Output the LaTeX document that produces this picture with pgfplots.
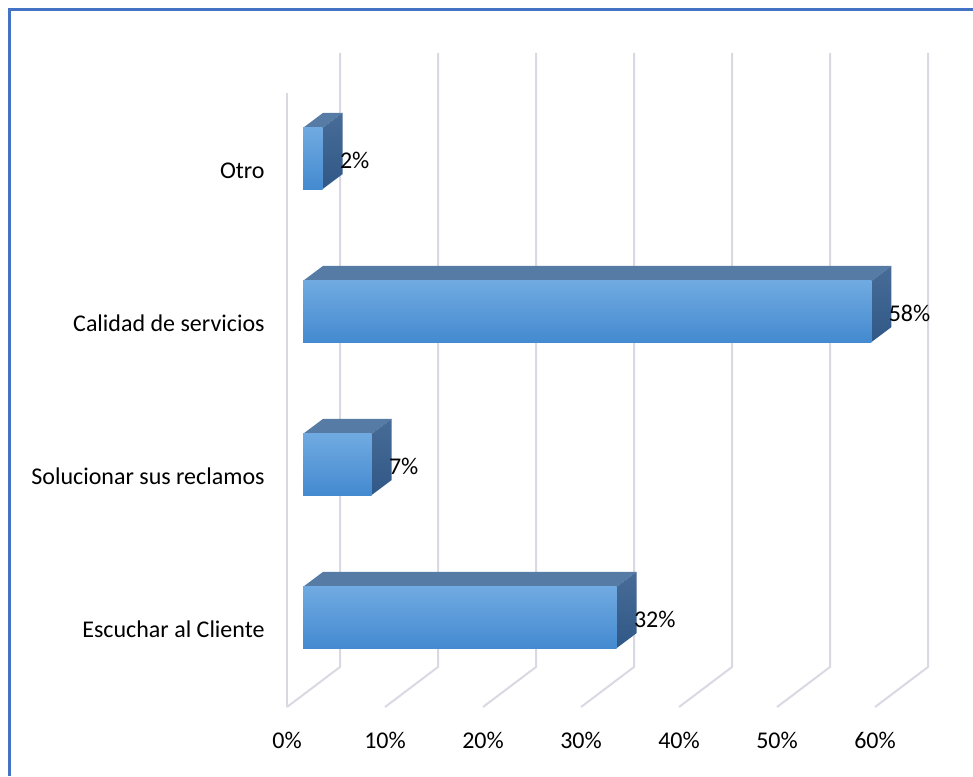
\documentclass[border=0pt]{standalone}
\usepackage{fontspec}
\setmainfont{Carlito}
\usepackage{pgfplots}
\pgfplotsset{compat=1.18}
\definecolor{gridc}{RGB}{217,217,227}
\definecolor{frontT}{RGB}{112,170,225}
\definecolor{frontB}{RGB}{68,138,208}
\definecolor{topc}{RGB}{86,124,166}
\definecolor{sideT}{RGB}{72,108,152}
\definecolor{sideB}{RGB}{48,88,134}
\definecolor{borderc}{RGB}{68,114,196}

\pgfplotsset{frontbar/.style={xbar, bar width=0.4, bar shift=0pt, draw=none,
  top color=frontT, bottom color=frontB, point meta=x,
  nodes near coords={\pgfmathprintnumber{\pgfplotspointmeta}\%},
  nodes near coords style={font=\fontsize{12}{14}\selectfont, text=black, anchor=west,
    inner sep=0pt, xshift=8.5pt, yshift=-1pt}}}

% top and side faces of a 3D bar: #1 value, #2 category position
\newcommand{\barfaces}[2]{%
  \pgfmathsetmacro\va{#1+2.041}%
  \pgfmathsetmacro\yb{#2-0.2}%
  \pgfmathsetmacro\yt{#2+0.2}%
  \pgfmathsetmacro\ybb{#2-0.2+0.098}%
  \pgfmathsetmacro\ytb{#2+0.2+0.098}%
  \edef\doit{%
    \noexpand\addplot[draw=none, fill=topc, forget plot] coordinates {(0,\yt) (#1,\yt) (\va,\ytb) (2.041,\ytb)};
    \noexpand\addplot[draw=none, top color=sideT, bottom color=sideB, forget plot] coordinates {(#1,\yb) (#1,\yt) (\va,\ytb) (\va,\ybb)};
  }\doit}

\begin{document}
\begin{tikzpicture}
\begin{axis}[
  width=486.5pt, height=388pt, scale only axis,
  xmin=-30.918, xmax=68.367, ymin=-1.0359, ymax=4.0359,
  axis line style={draw=none},
  major tick length=0pt,
  clip=false,
  xtick={-1.633,8.367,18.367,28.367,38.367,48.367,58.367},
  xticklabels={0\%,10\%,20\%,30\%,40\%,50\%,60\%},
  ytick={-0.08,0.92,1.92,2.92},
  yticklabels={Escuchar al Cliente, Solucionar sus reclamos, Calidad de servicios, Otro},
  tick label style={font=\fontsize{12}{14}\selectfont, text=black},
  xticklabel style={anchor=center, inner sep=0pt, yshift=18pt},
  yticklabel style={anchor=east, inner sep=0pt, xshift=132.5pt},
  /pgf/number format/assume math mode=true,
]
% chart border
\addplot[borderc, line width=1.5pt, forget plot] coordinates {(-29.898,-1.0359) (-29.898,3.9706) (68.367,3.9706)};
% floor and back wall gridlines
\addplot[gridc, line width=1pt, forget plot] coordinates {(-1.633,3.428) (-1.633,-0.585)};
\addplot[gridc, line width=1pt, forget plot] coordinates {(-1.633,-0.585) (3.776,-0.3235) (3.776,3.6895)};
\addplot[gridc, line width=1pt, forget plot] coordinates {(8.367,-0.585) (13.776,-0.3235) (13.776,3.6895)};
\addplot[gridc, line width=1pt, forget plot] coordinates {(18.367,-0.585) (23.776,-0.3235) (23.776,3.6895)};
\addplot[gridc, line width=1pt, forget plot] coordinates {(28.367,-0.585) (33.776,-0.3235) (33.776,3.6895)};
\addplot[gridc, line width=1pt, forget plot] coordinates {(38.367,-0.585) (43.776,-0.3235) (43.776,3.6895)};
\addplot[gridc, line width=1pt, forget plot] coordinates {(48.367,-0.585) (53.776,-0.3235) (53.776,3.6895)};
\addplot[gridc, line width=1pt, forget plot] coordinates {(58.367,-0.585) (63.776,-0.3235) (63.776,3.6895)};
% 3D faces
\barfaces{32}{0}
\barfaces{7}{1}
\barfaces{58}{2}
\barfaces{2}{3}
% front faces with labels (one plot per bar so each gets its own gradient)
\addplot[frontbar] coordinates {(32,0)};
\addplot[frontbar] coordinates {(7,1)};
\addplot[frontbar] coordinates {(58,2)};
\addplot[frontbar] coordinates {(2,3)};
\end{axis}
\pgfresetboundingbox
\path[use as bounding box] (current axis.south west) rectangle (current axis.north east);
\end{tikzpicture}
\end{document}
